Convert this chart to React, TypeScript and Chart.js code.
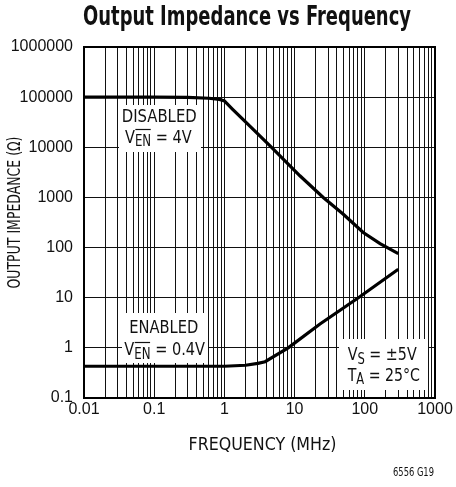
import React, { useEffect, useRef } from 'react';
import { Chart, registerables } from 'chart.js';

Chart.register(...registerables);

// ---- Data ----
const DISABLED_FREQ = [0.01, 0.1, 0.3, 0.6, 0.85, 1.0, 1.3, 2, 4.7, 11.9, 25.6, 49, 95, 165, 300];
const DISABLED_Z = [100000, 100000, 98500, 95000, 90000, 84000, 58000, 32000, 10000, 2700, 1000, 466, 200, 120, 76];

const ENABLED_FREQ = [0.01, 0.1, 1, 2, 3, 3.8, 8.1, 23, 81, 300];
const ENABLED_Z = [0.43, 0.43, 0.43, 0.45, 0.49, 0.53, 1.0, 3.0, 10, 37];

const X_DECADES = [0.01, 0.1, 1, 10, 100, 1000];
const X_TICK_LABELS = ['0.01', '0.1', '1', '10', '100', '1000'];
const Y_DECADES = [0.1, 1, 10, 100, 1000, 10000, 100000, 1000000];
const Y_TICK_LABELS = ['0.1', '1', '10', '100', '1000', '10000', '100000', '1000000'];

const TITLE = 'Output Impedance vs Frequency';
const X_TITLE = 'FREQUENCY (MHz)';
const Y_TITLE = 'OUTPUT IMPEDANCE (Ω)';
const NOTE = '6556 G19';

const NARROW = "'Liberation Sans Narrow', 'DejaVu Sans Condensed', 'Liberation Sans', Arial, sans-serif";
const REGULAR = "'Liberation Sans', Arial, sans-serif";

type Part = { t: string; size: number; dy: number; overline?: boolean };

function fitText(ctx: CanvasRenderingContext2D, text: string, x: number, y: number, font: string, width: number, align: CanvasTextAlign) {
  ctx.save();
  ctx.font = font;
  const w = ctx.measureText(text).width;
  const s = width / w;
  ctx.translate(x, y);
  ctx.scale(s, 1);
  ctx.textAlign = align;
  ctx.textBaseline = 'alphabetic';
  ctx.fillStyle = '#111';
  ctx.fillText(text, 0, 0);
  ctx.restore();
}

function drawParts(ctx: CanvasRenderingContext2D, parts: Part[], left: number, baseline: number, width: number, overY: number) {
  ctx.save();
  let total = 0;
  const ws: number[] = [];
  for (const p of parts) {
    ctx.font = `${p.size}px ${NARROW}`;
    const w = ctx.measureText(p.t).width;
    ws.push(w);
    total += w;
  }
  const s = width / total;
  ctx.translate(left, baseline);
  ctx.scale(s, 1);
  ctx.fillStyle = '#111';
  ctx.strokeStyle = '#111';
  ctx.textAlign = 'left';
  ctx.textBaseline = 'alphabetic';
  let x = 0;
  parts.forEach((p, i) => {
    ctx.font = `${p.size}px ${NARROW}`;
    ctx.fillText(p.t, x, p.dy);
    if (p.overline) {
      ctx.lineWidth = 1.2;
      ctx.beginPath();
      ctx.moveTo(x + 0.5, overY - baseline);
      ctx.lineTo(x + ws[i] - 0.5, overY - baseline);
      ctx.stroke();
    }
    x += ws[i];
  });
  ctx.restore();
}

const decorPlugin = {
  id: 'decor',
  beforeDatasetsDraw(chart: any) {
    const ctx: CanvasRenderingContext2D = chart.ctx;
    const a = chart.chartArea;
    ctx.save();
    // white label boxes
    ctx.fillStyle = '#fff';
    ctx.fillRect(119, 105, 82, 47);
    ctx.fillRect(122, 313, 86, 50);
    ctx.fillRect(339, 339, 89, 51);
    // frame
    ctx.strokeStyle = '#000';
    ctx.lineWidth = 2;
    ctx.strokeRect(a.left, a.top, a.right - a.left, a.bottom - a.top);
    ctx.restore();

    // annotations
    fitText(ctx, 'DISABLED', 159.2, 122.3, `18.5px ${NARROW}`, 75, 'center');
    drawParts(ctx, [
      { t: 'V', size: 18.5, dy: 0 },
      { t: 'EN', size: 15, dy: 3.5, overline: true },
      { t: ' = 4V', size: 18.5, dy: 0 },
    ], 125, 142.7, 66.7, 129.5);

    fitText(ctx, 'ENABLED', 163.8, 332.7, `18.5px ${NARROW}`, 69, 'center');
    drawParts(ctx, [
      { t: 'V', size: 18.5, dy: 0 },
      { t: 'EN', size: 15, dy: 3.5, overline: true },
      { t: ' = 0.4V', size: 18.5, dy: 0 },
    ], 124.3, 355, 80.7, 342.5);

    drawParts(ctx, [
      { t: 'V', size: 18.5, dy: 0 },
      { t: 'S', size: 15, dy: 3.5 },
      { t: ' = ±5V', size: 18.5, dy: 0 },
    ], 347.7, 360, 69, 0);
    drawParts(ctx, [
      { t: 'T', size: 18.5, dy: 0 },
      { t: 'A', size: 15, dy: 3.5 },
      { t: ' = 25°C', size: 18.5, dy: 0 },
    ], 347.7, 380.7, 72.3, 0);
  },
  afterDraw(chart: any) {
    const ctx: CanvasRenderingContext2D = chart.ctx;
    fitText(ctx, TITLE, 247, 25, `bold 26px ${NARROW}`, 328, 'center');
    fitText(ctx, X_TITLE, 262.5, 450, `18.5px ${NARROW}`, 148, 'center');
    ctx.save();
    ctx.translate(20, 212.5);
    ctx.rotate(-Math.PI / 2);
    fitText(ctx, Y_TITLE, 0, 0, `17px ${NARROW}`, 152, 'center');
    ctx.restore();
    fitText(ctx, NOTE, 434, 475.7, `11.5px ${NARROW}`, 41, 'right');
  },
};

export default function App() {
  const ref = useRef<HTMLCanvasElement>(null);

  useEffect(() => {
    const canvas = ref.current!;
    const xGrid: number[] = [];
    for (let d = 0; d < X_DECADES.length - 1; d++) {
      for (let k = 1; k <= 9; k++) xGrid.push(X_DECADES[d] * k);
    }
    xGrid.push(X_DECADES[X_DECADES.length - 1]);

    const chart = new Chart(canvas, {
      type: 'line',
      data: {
        datasets: [
          {
            label: 'DISABLED',
            data: DISABLED_FREQ.map((f, i) => ({ x: f, y: DISABLED_Z[i] })),
            borderColor: '#000',
            borderWidth: 3.2,
            pointRadius: 0,
            tension: 0,
            fill: false,
          },
          {
            label: 'ENABLED',
            data: ENABLED_FREQ.map((f, i) => ({ x: f, y: ENABLED_Z[i] })),
            borderColor: '#000',
            borderWidth: 3.2,
            pointRadius: 0,
            tension: 0,
            fill: false,
          },
        ],
      },
      options: {
        responsive: false,
        animation: false,
        devicePixelRatio: 1,
        layout: { padding: { top: 47, left: 0, right: 21, bottom: 59 } },
        plugins: {
          legend: { display: false },
          title: { display: false },
          tooltip: { enabled: false },
        },
        scales: {
          x: {
            type: 'logarithmic',
            min: 0.01,
            max: 1000,
            afterBuildTicks: (scale: any) => {
              scale.ticks = xGrid.map((v) => ({ value: v }));
            },
            afterFit: (scale: any) => {
              scale.height = 30;
            },
            grid: { color: '#111', lineWidth: 1, drawTicks: false },
            border: { display: true, color: '#000', width: 2 },
            ticks: {
              autoSkip: false,
              maxRotation: 0,
              padding: 2,
              color: '#111',
              font: { family: REGULAR, size: 16 },
              callback: (v: any) => {
                const idx = X_DECADES.findIndex((d) => Math.abs(Math.log10(d) - Math.log10(Number(v))) < 1e-6);
                return idx >= 0 ? X_TICK_LABELS[idx] : '';
              },
            },
          },
          y: {
            type: 'logarithmic',
            min: 0.1,
            max: 1000000,
            afterBuildTicks: (scale: any) => {
              scale.ticks = Y_DECADES.map((v) => ({ value: v }));
            },
            afterFit: (scale: any) => {
              scale.width = 84;
            },
            grid: { color: '#111', lineWidth: 1, drawTicks: false },
            border: { display: true, color: '#000', width: 2 },
            ticks: {
              autoSkip: false,
              padding: 11,
              color: '#111',
              font: { family: REGULAR, size: 16 },
              callback: (v: any) => {
                const idx = Y_DECADES.findIndex((d) => Math.abs(Math.log10(d) - Math.log10(Number(v))) < 1e-6);
                return idx >= 0 ? Y_TICK_LABELS[idx] : '';
              },
            },
          },
        },
      },
      plugins: [decorPlugin],
    } as any);

    return () => chart.destroy();
  }, []);

  return (
    <div style={{ position: 'fixed', left: 0, top: 0, width: 456, height: 487, background: '#fff' }}>
      <canvas ref={ref} width={456} height={487} style={{ width: 456, height: 487, display: 'block' }} />
    </div>
  );
}
